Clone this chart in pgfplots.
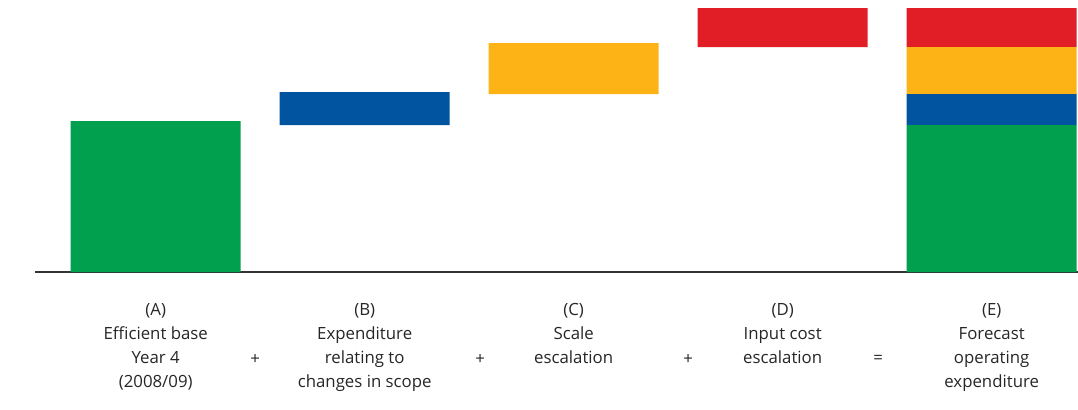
\documentclass[border=0pt]{standalone}
\usepackage{pgfplots}
\pgfplotsset{compat=1.18}
\usepackage{fontspec}
\setmainfont{Open Sans}
\definecolor{cgreen}{HTML}{00A04E}
\definecolor{cblue}{HTML}{0054A0}
\definecolor{corange}{HTML}{FDB316}
\definecolor{cred}{HTML}{E11D26}
\definecolor{caxis}{HTML}{333333}
\begin{document}
\begin{tikzpicture}
\path[use as bounding box] (0,0) rectangle (539pt,204.5pt);
\begin{axis}[
  at={(17.5pt,68.5pt)}, anchor=south west,
  scale only axis, width=521.5pt, height=136pt,
  xmin=-0.5775, xmax=4.413, ymin=0, ymax=272,
  ybar stacked, bar width=85pt,
  axis x line*=bottom, axis y line=none,
  x axis line style={line width=1pt, color=caxis, -},
  xtick={0,1,2,3,4},
  xticklabels={{(A)\\Efficient base\\Year 4\\(2008/09)},{(B)\\Expenditure\\relating to\\changes in scope},{(C)\\Scale\\escalation},{(D)\\Input cost\\escalation},{(E)\\Forecast\\operating\\expenditure}},
  xticklabel style={align=center, font=\fontsize{8.4}{12}\selectfont, yshift=-12pt, text=black!85},
  major tick length=0pt,
  ytick=\empty,
  clip=false,
]
\addplot[draw=none, fill=none] coordinates {(0,0) (1,147) (2,178) (3,225) (4,0)};
\addplot[draw=none, fill=cgreen] coordinates {(0,151) (1,0) (2,0) (3,0) (4,147)};
\addplot[draw=none, fill=cblue] coordinates {(0,0) (1,33) (2,0) (3,0) (4,31)};
\addplot[draw=none, fill=corange] coordinates {(0,0) (1,0) (2,51) (3,0) (4,47)};
\addplot[draw=none, fill=cred] coordinates {(0,0) (1,0) (2,0) (3,39) (4,39)};
\node[font=\fontsize{8.4}{12}\selectfont, text=black!85] at (axis cs:0.476,-87) {+};
\node[font=\fontsize{8.4}{12}\selectfont, text=black!85] at (axis cs:1.553,-87) {+};
\node[font=\fontsize{8.4}{12}\selectfont, text=black!85] at (axis cs:2.548,-87) {+};
\node[font=\fontsize{8.4}{12}\selectfont, text=black!85] at (axis cs:3.457,-87) {=};
\end{axis}
\end{tikzpicture}
\end{document}
